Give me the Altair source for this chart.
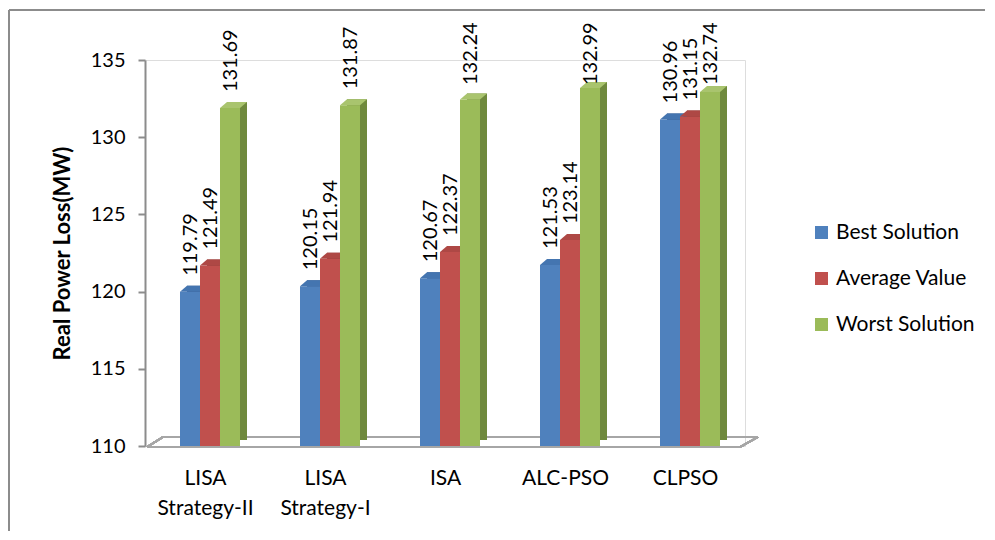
import json
import altair as alt
import pandas as pd

categories = ["LISA Strategy-II", "LISA Strategy-I", "ISA", "ALC-PSO", "CLPSO"]
axis_labels = [["LISA", "Strategy-II"], ["LISA", "Strategy-I"], ["ISA"], ["ALC-PSO"], ["CLPSO"]]
series = ["Best Solution", "Average Value", "Worst Solution"]
best = [119.79, 120.15, 120.67, 121.53, 130.96]
average = [121.49, 121.94, 122.37, 123.14, 131.15]
worst = [131.69, 131.87, 132.24, 132.99, 132.74]

front_colors = ["#4F81BD", "#C0504D", "#9BBB59"]
side_colors = ["#385D8A", "#8C3A38", "#6F893D"]
top_colors = ["#4475B0", "#AE4845", "#A9C46E"]

rows = []
for ci, cat in enumerate(categories):
    for si, (s, vals) in enumerate(zip(series, [best, average, worst])):
        rows.append({"category": cat, "ci": ci, "series": s, "si": si, "value": vals[ci]})
df = pd.DataFrame(rows)

FONT = "Lato"
x_scale = alt.Scale(domain=[0, 5], nice=False, zero=False)
y_scale = alt.Scale(domain=[110, 135], nice=False, zero=False)

base = alt.Chart(df).transform_calculate(
    left="datum.ci + 0.25 + datum.si / 6",
    right="datum.ci + 0.25 + (datum.si + 1) / 6",
    mid="datum.ci + 0.25 + (datum.si + 0.5) / 6",
    labelpos="min(datum.value, 132.15)",
)

label_expr = "%s[round(datum.value - 0.5)]" % json.dumps(axis_labels)

x_axis = alt.Axis(
    values=[0.5, 1.5, 2.5, 3.5, 4.5],
    labelExpr=label_expr,
    domain=False, ticks=False, grid=False, title=None,
    labelFontSize=21, labelFont=FONT, labelColor="#000000",
    labelPadding=21, labelLineHeight=30, labelBaseline="top",
)
y_axis = alt.Axis(
    values=[110, 115, 120, 125, 130, 135],
    title="Real Power Loss(MW)",
    titleFontSize=22, titleFont=FONT, titleFontWeight="bold", titleColor="#000000",
    titleAngle=270, titleX=-83, titleY=193, titleAlign="center", titleBaseline="middle",
    labelFontSize=20, labelFont=FONT, labelColor="#000000", labelPadding=13,
    domainColor="#8C8C8C", domainWidth=2, tickColor="#8C8C8C", tickWidth=2, tickSize=7,
    grid=False,
)

# outer frame (top and left edges; the others run off the picture)
frame_top = alt.Chart(df).mark_rule(color="#8C8C8C", strokeWidth=2).encode(
    x=alt.value(-136), x2=alt.value(840), y=alt.value(-50), y2=alt.value(-50)
)
frame_left = alt.Chart(df).mark_rule(color="#8C8C8C", strokeWidth=2).encode(
    x=alt.value(-136), x2=alt.value(-136), y=alt.value(-50), y2=alt.value(471)
)

# floor (3D base)
floor_col = "#A6A6A6"
floor_front = alt.Chart(df).mark_rule(color=floor_col, strokeWidth=2, xOffset=2, x2Offset=-5, yOffset=1, y2Offset=1).encode(
    x=alt.datum(0, scale=x_scale), x2=alt.datum(5), y=alt.datum(110, scale=y_scale), y2=alt.datum(110)
)
floor_back = alt.Chart(df).mark_rule(color=floor_col, strokeWidth=2, xOffset=18, x2Offset=13, yOffset=-9, y2Offset=-9).encode(
    x=alt.datum(0), x2=alt.datum(5), y=alt.datum(110), y2=alt.datum(110)
)
floor_left = alt.Chart(df).mark_rule(color=floor_col, strokeWidth=2, xOffset=2, x2Offset=18, yOffset=1, y2Offset=-9).encode(
    x=alt.datum(0), x2=alt.datum(0), y=alt.datum(110), y2=alt.datum(110)
)
floor_right = alt.Chart(df).mark_rule(color=floor_col, strokeWidth=2, xOffset=-5, x2Offset=13, yOffset=1, y2Offset=-9).encode(
    x=alt.datum(5), x2=alt.datum(5), y=alt.datum(110), y2=alt.datum(110)
)

layers = [frame_top, frame_left, floor_front, floor_back, floor_left, floor_right]

top_path = "M-1,0 L1,0 L1.7,-0.6 L-0.3,-0.6 Z"
for si, s in enumerate(series):
    sub = base.transform_filter(alt.datum.series == s)
    side = sub.mark_bar(color=side_colors[si], xOffset=12, x2Offset=12, yOffset=-9, y2Offset=-6).encode(
        x=alt.X("left:Q", scale=x_scale, axis=x_axis), x2="right:Q",
        y=alt.Y("value:Q", scale=y_scale, axis=y_axis), y2=alt.datum(110),
    )
    front = sub.mark_bar(xOffset=5, x2Offset=5, yOffset=-3).encode(
        x=alt.X("left:Q", scale=x_scale, axis=x_axis), x2="right:Q",
        y=alt.Y("value:Q", scale=y_scale, axis=y_axis), y2=alt.datum(110),
        color=alt.Color(
            "series:N",
            scale=alt.Scale(domain=series, range=front_colors),
            legend=alt.Legend(
                title=None, orient="none", legendX=666, legendY=162,
                symbolType="square", symbolSize=169, symbolStrokeWidth=0,
                labelFont=FONT, labelFontSize=21, labelColor="#000000",
                labelOffset=4, rowPadding=24, padding=0,
            ),
        ),
    )
    top = sub.mark_point(shape=top_path, size=400, filled=True, opacity=1, strokeWidth=0,
                         color=top_colors[si], xOffset=5, yOffset=-3).encode(
        x=alt.X("mid:Q", scale=x_scale), y=alt.Y("value:Q", scale=y_scale),
    )
    layers += [side, front, top]

labels = base.mark_text(angle=270, align="left", baseline="middle", dx=16, xOffset=6, yOffset=-3,
                        font=FONT, fontSize=20, color="#000000").encode(
    x=alt.X("mid:Q", scale=x_scale), y=alt.Y("labelpos:Q", scale=y_scale),
    text=alt.Text("value:Q", format=".2f"),
)
layers.append(labels)

chart = alt.layer(*layers).properties(
    width=600, height=386,
    padding={"left": 137, "top": 52, "right": 242, "bottom": 86},
    autosize=alt.AutoSizeParams(type="none"),
).configure_view(stroke=None).configure(background="white")

chart.save("out.html", embed_options={"renderer": "svg", "actions": False})
